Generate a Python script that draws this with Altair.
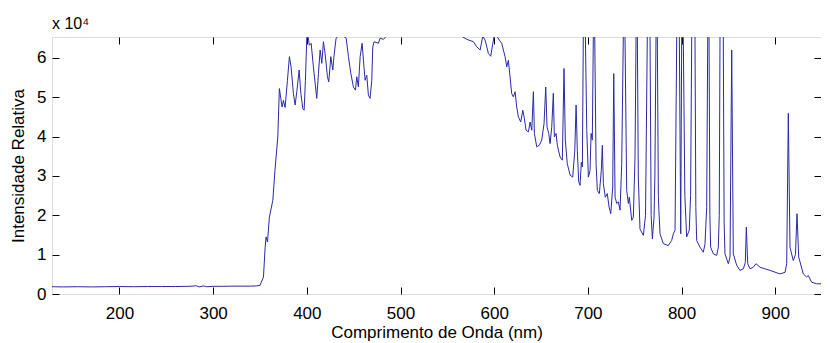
import altair as alt
import pandas as pd

# ---- data (wavelength in nm, relative intensity in counts) ----
base_nm = [128, 140, 155, 170, 185, 200, 215, 230, 245, 260, 275, 282, 285, 290, 293, 300, 310, 320, 330, 340, 346, 350]
base_val = [1850, 1800, 1850, 1800, 1850, 1900, 1850, 1900, 1900, 1900, 1950, 2100, 1800, 2050, 1850, 1950, 1950, 2000, 2000, 2000, 2050, 2200]

rise_nm = [353.7, 355.5, 356.5, 358, 360, 363.7, 366, 369, 370.7, 372.2, 373.6, 375, 376.8, 379.3, 381.4, 383.2,
           385.7, 387.5, 389.3, 391.8, 393.6, 395.7, 397.1, 398.5, 400, 401.2, 402.7, 404.6, 407, 410.6, 412.4,
           414.2, 416, 417.7, 419.5, 422, 423.4, 425.6, 427.7, 429.1, 431.2, 433.7, 439, 442, 444.4, 447, 449.7,
           451.9, 453.3, 455, 456.9, 459, 460.4, 462.2, 464, 465.7, 467.5, 469.3, 470.4, 471.8]
rise_val = [4300, 11900, 14500, 13200, 19500, 23800, 31400, 39900, 52200, 49700, 47500, 49200, 47400, 54300, 60300, 57700,
            50900, 48000, 51400, 56900, 51000, 47100, 46700, 54300, 65535, 65535, 63200, 63700, 57700, 49700, 56000,
            62000, 58600, 64100, 61100, 55200, 53900, 60300, 56900, 60700, 65000, 65535, 65535, 65000, 60300, 56000, 52600,
            51800, 55200, 52600, 60300, 63700, 59400, 54300, 55600, 50500, 49700, 54300, 62800, 64100]

sat_nm = [476.4, 478.2, 481.7, 485, 565, 570.7, 577.8, 581.4, 585, 587.8, 590.3, 593.8, 596.3, 598.5, 600, 602.7, 605.5]
sat_val = [63700, 65000, 64700, 65535, 65535, 64700, 64100, 62800, 62000, 65535, 64500, 61100, 60400, 63700, 65535, 65535, 64500]

fall_nm = [608, 611.6, 613.4, 615.1, 616.9, 618.7, 620.4, 622.3, 624, 625.8, 628.3, 630.5, 632.2, 634, 636.5, 638.3,
           640.1, 641.8, 642.9, 645.4, 648.2, 650.7, 653.2, 655, 656.4, 658.2, 659.6, 661.4, 663.1, 664.2, 666, 667.4,
           670.3, 672.7, 674.5, 675.9, 678, 681, 683.8, 686, 687.4, 688.7, 690.2, 691.6, 693, 694.1]
fall_val = [63700, 60300, 57700, 59400, 55200, 50900, 50100, 51400, 47500, 45000, 43700, 46700, 44600, 41600, 41200, 43700,
            41600, 51400, 40800, 37400, 37800, 39100, 43300, 52600, 42400, 40800, 38200, 42400, 51000, 39900, 40800, 37800,
            34800, 34000, 57300, 39100, 33100, 30200, 29700, 36500, 48000, 36500, 28500, 27600, 33500, 32300]

lines_nm = [695.1, 697.3, 698.8, 700.5, 702.3, 703.4, 704.7, 705.8, 707.3, 708.7, 710.1, 712.2, 714.3, 715.4, 716.5,
            718.6, 720.7, 722.6, 724.4, 726.5, 727.6, 729, 730.8, 732.5, 734.3, 736.1, 737.8, 739.6, 741.4, 743.2,
            744.2, 746.8, 748.5, 750.3, 751.4, 752.8, 753.8, 755.6, 759.2, 761.5, 763.4, 766.3, 767.5, 768.8, 770.6,
            771.5, 772.7, 774.1, 775.2, 775.8, 777, 780.5, 785.8, 789.4, 791.2, 793, 794.8, 797.6, 799.1, 800.1,
            801.8, 803.5, 805.4, 808.2, 809.6, 810.8, 814.3, 815.2, 816.1, 819.6, 823.2, 825, 826.8, 827.9, 829.3,
            830.2, 831, 833.9, 837.5, 839.2, 840.2, 841, 844.5, 845.4, 846.3, 849.9, 851.7, 853.5, 855.2, 858.8]
lines_val = [65535, 65535, 41600, 29700, 31400, 40800, 39100, 65535, 65535, 33100, 26300, 25500, 31400, 37800, 28000,
             24600, 25500, 22100, 20400, 27200, 56000, 24600, 23000, 23400, 21300, 33100, 65535, 65535, 26300, 23000,
             24600, 18700, 19500, 34800, 65535, 65535, 29700, 16500, 14900, 20000, 65535, 65535, 20000, 14000, 19500,
             30000, 65535, 65535, 25000, 21200, 15300, 12800, 12300, 13600, 15300, 16200, 65535, 65535, 15300, 65535,
             65535, 25000, 14500, 16200, 25000, 65535, 65535, 22000, 13600, 11900, 10600, 12800, 22000, 65535, 65535,
             20000, 11900, 10200, 9800, 11900, 20000, 65535, 65535, 18000, 10200, 7700, 9400, 62000, 10200, 7300]

tail_nm = [862.3, 865.9, 868, 869.1, 870.6, 873, 876.5, 879.4, 883.7, 894.3, 905, 910.4, 912.2, 913.9, 915.7, 919.2,
           921.5, 923.2, 925, 929.9, 933.5, 935.2, 938.8, 944.2, 954.8, 956.5, 958]
tail_val = [6000, 6400, 8000, 17000, 7700, 6400, 6800, 7700, 6800, 6000, 5100, 5500, 7700, 45900, 11900, 8500,
            10000, 20400, 9400, 5100, 4300, 4700, 3000, 2600, 2600, 5100, 5500]

x_ticks = [200, 300, 400, 500, 600, 700, 800, 900]
y_ticks = [0, 10000, 20000, 30000, 40000, 50000, 60000]
X_DOMAIN = [128, 948.8]
Y_DOMAIN = [0, 65300]

wl = base_nm + rise_nm + sat_nm + fall_nm + lines_nm + tail_nm
inten = base_val + rise_val + sat_val + fall_val + lines_val + tail_val
df = pd.DataFrame({"wl": wl, "I": inten})

FONT = "Liberation Sans"
TICK = 7
xs = alt.Scale(domain=X_DOMAIN, nice=False, zero=False)
ys = alt.Scale(domain=Y_DOMAIN, nice=False, zero=False)

common = dict(domain=False, grid=False, tickSize=TICK, offset=-TICK, tickColor="#000", tickWidth=1,
              labelFont=FONT, labelFontSize=17, labelColor="#000", titleFont=FONT, titleFontSize=17,
              titleColor="#000", titleFontWeight="normal")

line = alt.Chart(df).mark_line(color="#2a2aa8", strokeWidth=1, clip=True).encode(
    x=alt.X("wl:Q", scale=xs, axis=alt.Axis(orient="bottom", values=x_ticks, title="Comprimento de Onda (nm)",
                                           labelPadding=11, titlePadding=3, **common)),
    y=alt.Y("I:Q", scale=ys, axis=alt.Axis(orient="left", values=y_ticks, labelExpr="datum.value / 10000",
                                          title="Intensidade Relativa", labelPadding=6, titlePadding=9, **common)),
)

frame = alt.Chart(df).mark_line(opacity=0, clip=True).encode(
    x=alt.X("wl:Q", scale=xs, axis=alt.Axis(orient="top", values=x_ticks, labels=False, title=None, **common)),
    y=alt.Y("I:Q", scale=ys, axis=alt.Axis(orient="right", values=y_ticks, labels=False, title=None, **common)),
)

chart = alt.layer(line, frame).resolve_axis(x="independent", y="independent").properties(
    width=769, height=257,
    autosize=alt.AutoSizeParams(type="none"),
    padding={"left": 44, "top": 29, "right": 0, "bottom": 49},
    title=alt.TitleParams(text="x 10⁴", anchor="start", frame="group", font=FONT, fontSize=16,
                          fontWeight="normal", color="#000", offset=5),
).configure_view(stroke="#000", strokeWidth=1).configure(background="white")

chart.save("out.html", embed_options={"renderer": "svg", "actions": False})
